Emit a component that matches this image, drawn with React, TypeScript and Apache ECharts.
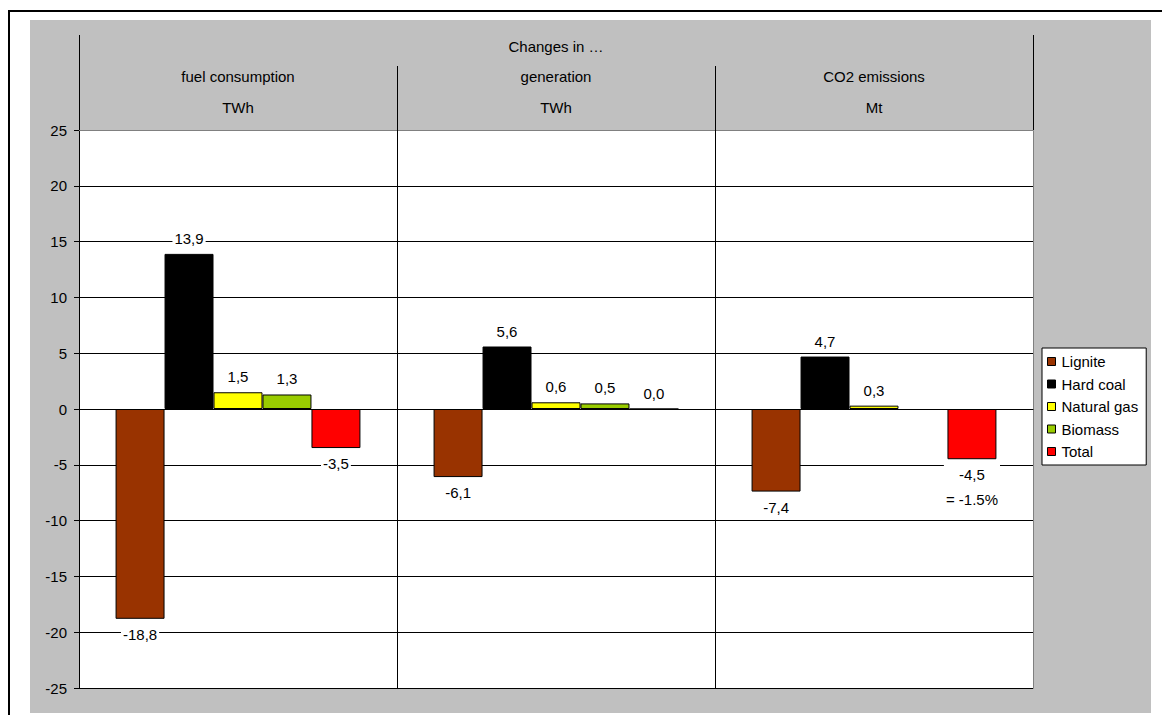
import React, { useEffect, useRef } from "react";
import * as echarts from "echarts";

// Changes by fuel type in fuel consumption, generation and CO2 emissions
const categories = ["fuel consumption", "generation", "CO2 emissions"];
const units = ["TWh", "TWh", "Mt"];
const headerTitle = "Changes in …";

const seriesNames = ["Lignite", "Hard coal", "Natural gas", "Biomass", "Total"];
const seriesColors = ["#993300", "#000000", "#FFFF00", "#99CC00", "#FF0000"];

const lignite = [-18.8, -6.1, -7.4];
const hardCoal = [13.9, 5.6, 4.7];
const naturalGas = [1.5, 0.6, 0.3];
const biomass: (number | null)[] = [1.3, 0.5, null];
const total = [-3.5, 0.0, -4.5];
const totalNotes = ["", "", "= -1.5%"];

const yTicks = [-25, -20, -15, -10, -5, 0, 5, 10, 15, 20, 25];

const FONT = "'Liberation Sans', Arial, sans-serif";

// plot area geometry
const G_LEFT = 79;
const G_TOP = 130;
const G_W = 954;
const G_H = 558;

const fmt = (v: number) => v.toFixed(1).replace(".", ",");

export default function App() {
  const ref = useRef<HTMLDivElement>(null);

  useEffect(() => {
    if (!ref.current) return;
    const chart = echarts.init(ref.current, undefined, { renderer: "svg" });

    const values = [lignite, hardCoal, naturalGas, biomass, total];
    const colW = G_W / categories.length;
    const right = G_LEFT + G_W;
    const bottom = G_TOP + G_H;

    const headerTexts: any[] = [
      {
        type: "text",
        x: G_LEFT + G_W / 2,
        y: 46,
        z: 10,
        style: { text: headerTitle, fill: "#000", font: `15px ${FONT}`, align: "center", verticalAlign: "middle" },
      },
    ];
    categories.forEach((c, i) => {
      const cx = G_LEFT + colW * (i + 0.5);
      headerTexts.push({
        type: "text",
        x: cx,
        y: 76,
        z: 10,
        style: { text: c, fill: "#000", font: `15px ${FONT}`, align: "center", verticalAlign: "middle" },
      });
      headerTexts.push({
        type: "text",
        x: cx,
        y: 107,
        z: 10,
        style: { text: units[i], fill: "#000", font: `15px ${FONT}`, align: "center", verticalAlign: "middle" },
      });
    });

    const dividers: any[] = [];
    for (let i = 1; i < categories.length; i++) {
      const x = Math.round(G_LEFT + colW * i) + 0.5;
      dividers.push({
        type: "line",
        z: 10,
        shape: { x1: x, y1: 66, x2: x, y2: bottom },
        style: { stroke: "#000", lineWidth: 1 },
      });
    }

    const series = seriesNames.map((name, si) => ({
      name,
      type: "bar",
      barGap: "0%",
      barCategoryGap: "23%",
      itemStyle: { color: seriesColors[si], borderColor: "#000", borderWidth: 1 },
      label: {
        show: true,
        position: "outside",
        distance: 8,
        color: "#000",
        fontSize: 15,
        fontFamily: FONT,
        lineHeight: 15,
        backgroundColor: "#fff",
        padding: [0, 2],
        formatter: (p: any) => fmt(p.value),
      },
      data: values[si].map((v, ci) => {
        if (si === 4 && totalNotes[ci]) {
          return {
            value: v,
            label: {
              formatter: `${fmt(v as number)}\n${totalNotes[ci]}`,
              lineHeight: 25,
              distance: 3,
            },
          };
        }
        if (v === 0) {
          // zero change: label sits above the baseline
          return { value: v, label: { position: "top" } };
        }
        return v;
      }),
    }));

    chart.setOption({
      animation: false,
      backgroundColor: "#fff",
      textStyle: { fontFamily: FONT },
      grid: { left: G_LEFT, top: G_TOP, width: G_W, height: G_H, show: false, containLabel: false },
      legend: {
        orient: "vertical",
        left: 1042,
        top: 348,
        itemWidth: 8,
        itemHeight: 8,
        itemGap: 7.5,
        icon: "rect",
        padding: [6, 8, 6, 5],
        backgroundColor: "#fff",
        borderColor: "#000",
        borderWidth: 1,
        borderRadius: 0,
        itemStyle: { borderColor: "#000", borderWidth: 1 },
        textStyle: { fontSize: 15, color: "#000", fontFamily: FONT, padding: [0, 0, 0, 1] },
        data: seriesNames,
      },
      xAxis: {
        type: "category",
        data: categories,
        axisLine: { show: true, onZero: true, lineStyle: { color: "#000", width: 1 } },
        axisTick: { show: false },
        axisLabel: { show: false },
        splitLine: { show: false },
      },
      yAxis: {
        type: "value",
        min: yTicks[0],
        max: yTicks[yTicks.length - 1],
        interval: 5,
        axisLine: { show: true, lineStyle: { color: "#000", width: 1 } },
        axisTick: { show: true, length: 5, lineStyle: { color: "#000" } },
        axisLabel: { color: "#000", fontSize: 15, fontFamily: FONT, margin: 12 },
        splitLine: { show: true, lineStyle: { color: "#000", width: 1 } },
      },
      graphic: [
        // outer frame: top and left edges
        {
          type: "line",
          z: -20,
          shape: { x1: 8, y1: 11, x2: 1162, y2: 11 },
          style: { stroke: "#000", lineWidth: 2 },
        },
        {
          type: "line",
          z: -20,
          shape: { x1: 9, y1: 10, x2: 9, y2: 715 },
          style: { stroke: "#000", lineWidth: 2 },
        },
        // grey chart area
        {
          type: "rect",
          z: -19,
          shape: { x: 30, y: 20, width: 1121, height: 693 },
          style: { fill: "#C0C0C0" },
        },
        // white plot area with grey border
        {
          type: "rect",
          z: -18,
          shape: { x: G_LEFT + 0.5, y: G_TOP + 0.5, width: G_W, height: G_H },
          style: { fill: "#fff", stroke: "#808080", lineWidth: 1 },
        },
        // header frame lines
        {
          type: "line",
          z: 10,
          shape: { x1: G_LEFT + 0.5, y1: 35, x2: G_LEFT + 0.5, y2: G_TOP },
          style: { stroke: "#000", lineWidth: 1 },
        },
        {
          type: "line",
          z: 10,
          shape: { x1: right + 0.5, y1: 35, x2: right + 0.5, y2: G_TOP },
          style: { stroke: "#000", lineWidth: 1 },
        },
        {
          type: "line",
          z: 10,
          shape: { x1: G_LEFT, y1: G_TOP + 0.5, x2: right, y2: G_TOP + 0.5 },
          style: { stroke: "#808080", lineWidth: 1 },
        },
        ...dividers,
        ...headerTexts,
      ],
      series,
    });

    return () => chart.dispose();
  }, []);

  return (
    <div
      ref={ref}
      style={{ position: "fixed", left: 0, top: 0, width: 1162, height: 715, background: "#fff" }}
    />
  );
}
